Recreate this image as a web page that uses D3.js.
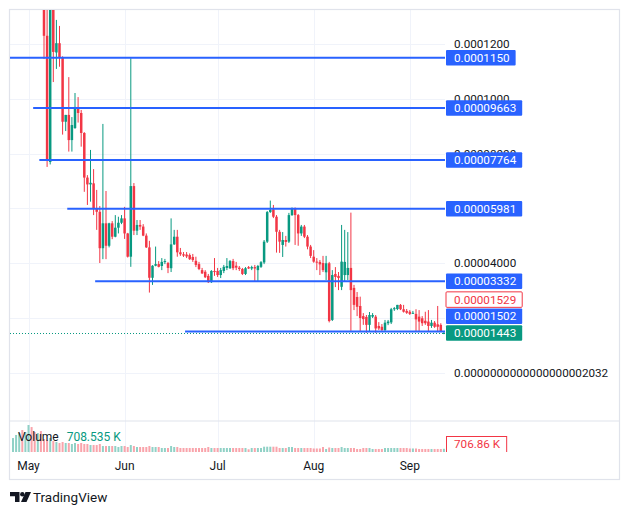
<!DOCTYPE html>
<html><head><meta charset="utf-8">
<script src="https://cdn.jsdelivr.net/npm/d3@7"></script>
<style>
body{margin:0;background:#fff;}
svg{display:block;font-family:Roboto,"Liberation Sans",Arial,sans-serif;}
</style>
</head><body>
<svg id="c" width="630" height="515"></svg>
<script>
// ---------- DATA (prices in units of 1e-5, volume in K) ----------
const firstDay = "2024-04-26";
const openP = [15.5,16.5,18,20.5,19,23,26,22,18,20,
 15,12.30,7.69,13.8,11.69,12.03,11.51,9.16,9.41,8.49,
 8.93,9.70,9.48,8.75,7.12,6.87,6.91,5.97,5.87,4.54,
 5.45,4.63,5.45,4.96,5.29,5.47,5.63,5.08,4.23,6.81,
 5.18,5.39,5.33,5.00,4.57,3.46,3.90,3.96,3.89,4.04,
 4.00,3.81,4.68,4.96,4.39,4.32,4.31,4.29,4.22,4.08,
 3.96,3.74,3.68,3.53,3.30,3.71,3.71,3.56,3.71,3.82,
 3.81,4.07,3.90,3.83,3.78,3.60,3.85,3.80,3.85,3.74,
 3.86,4.02,4.78,5.86,5.96,5.69,5.14,4.66,4.84,4.78,
 5.75,6.00,5.75,5.08,5.33,4.96,4.60,4.23,4.05,4.04,
 4.00,3.66,3.99,1.92,3.60,3.53,3.13,3.56,3.56,3.82,
 3.09,2.76,2.43,2.06,2.03,1.74,2.04,2.04,1.70,1.67,
 1.55,1.80,1.83,2.31,2.32,2.47,2.31,2.25,2.22,2.17,
 2.14,2.04,1.98,1.89,1.86,1.70,1.82,1.76,1.74,1.42];
const highP = [17,18.5,21,22,24,27,27,23,21,20.5,
 15.5,13.8,14.5,14.2,12.88,12.66,11.55,9.41,10.79,9.33,
 10.21,10.06,9.59,8.78,7.21,8.13,7.43,6.67,6.08,9.08,
 6.63,5.47,5.53,5.75,5.69,5.75,6.05,5.10,11.48,6.92,
 5.57,5.57,5.42,5.08,4.81,3.92,4.60,4.07,4.18,4.15,
 4.04,5.63,5.21,5.21,4.55,4.40,4.40,4.35,4.33,4.23,
 4.04,3.82,3.74,3.60,3.74,4.18,3.82,3.82,3.93,4.18,
 4.11,4.15,4.04,3.89,3.82,3.85,3.89,3.90,3.93,3.93,
 4.07,4.84,5.90,6.28,6.12,5.75,5.21,5.13,4.99,5.83,
 6.03,6.03,5.79,5.39,5.39,5.02,4.66,4.47,4.18,4.11,
 4.26,4.26,4.04,3.74,3.85,3.67,5.39,5.21,5.13,5.84,
 3.20,2.94,2.77,2.17,2.10,2.21,2.17,2.10,1.84,1.77,
 1.92,1.92,2.36,2.39,2.47,2.50,2.47,2.32,2.28,2.25,
 2.31,2.28,2.06,2.22,2.28,1.92,1.88,2.43,1.80,1.50];
const lowP = [14.8,16,17.5,18,18.5,22,21,17,16.5,15,
 11.45,7.51,7.60,10.61,11.09,11.17,8.69,8.82,8.07,8.07,
 8.90,9.13,8.25,6.60,6.12,6.24,5.75,5.21,4.00,4.14,
 4.14,4.57,4.87,4.94,5.08,5.42,4.88,4.20,3.86,5.02,
 5.02,5.21,4.98,4.55,2.92,3.20,3.88,3.84,3.74,3.96,
 3.63,3.67,4.66,4.23,4.26,4.22,4.18,4.11,4.04,3.85,
 3.74,3.60,3.45,3.27,3.27,3.53,3.49,3.45,3.63,3.74,
 3.78,3.74,3.74,3.71,3.56,3.56,3.78,3.74,3.34,3.34,
 3.82,3.96,4.73,5.83,5.64,4.38,4.37,4.22,4.60,4.73,
 5.72,4.66,4.63,4.99,4.91,4.50,4.18,4.01,3.74,3.56,
 3.67,3.38,1.83,1.88,3.12,3.01,3.01,3.31,3.38,1.52,
 2.28,2.06,1.49,1.74,1.45,1.49,1.99,1.45,1.55,1.48,
 1.48,1.73,1.77,2.25,2.28,2.28,2.19,2.14,2.10,2.14,
 1.49,1.49,1.70,1.74,1.49,1.63,1.63,1.49,1.48,1.40];
const closeP = [16.5,18,20.5,19,23,26,22,18,20,16,
 12.30,7.74,13.8,11.71,12.03,11.51,9.16,9.41,8.49,9.04,
 9.70,9.48,8.75,7.12,6.87,6.93,5.97,5.87,4.54,5.45,
 4.63,5.45,4.96,5.29,5.47,5.63,5.08,4.23,6.81,5.18,
 5.39,5.33,5.00,4.57,3.46,3.90,3.96,3.86,4.04,4.07,
 3.82,4.68,4.96,4.39,4.32,4.27,4.24,4.14,4.11,3.93,
 3.78,3.62,3.48,3.30,3.71,3.67,3.56,3.74,3.86,3.89,
 4.07,3.81,3.83,3.78,3.60,3.81,3.80,3.85,3.80,3.89,
 4.03,4.78,5.86,5.94,5.69,5.14,4.78,4.84,4.77,5.75,
 6.00,5.75,5.08,5.33,4.96,4.60,4.26,4.05,4.02,3.95,
 3.74,3.99,1.88,3.56,3.49,3.45,4.05,4.04,3.82,3.01,
 2.47,2.40,1.99,1.95,1.74,2.10,2.10,1.61,1.61,1.55,
 1.82,1.86,2.31,2.35,2.47,2.31,2.22,2.18,2.14,2.18,
 1.94,1.86,1.80,1.80,1.70,1.82,1.67,1.67,1.50,1.443];
const volumeK = [3100,3780,4220,4880,4440,6000,5550,4440,4220,4660,
 2890,2660,3110,2440,2220,2000,2220,2000,2000,1780,
 2000,1780,2000,1780,1780,1550,1550,1550,1780,1330,
 1330,1330,1330,1330,1110,1330,1330,1110,1550,1330,
 1110,1110,1110,1110,1330,1110,1110,1110,890,890,
 890,1330,1110,1110,890,890,890,890,890,890,
 890,890,890,1110,890,890,890,890,890,890,
 890,890,890,890,890,890,600,890,890,890,
 890,1180,1180,1180,1180,1180,890,890,890,1110,
 1110,890,890,890,890,890,890,780,780,780,
 1110,670,1000,890,890,890,1110,890,890,890,
 890,670,670,890,890,890,670,670,670,670,
 890,890,890,890,890,890,890,890,780,780,
 780,670,670,670,670,670,670,670,670,708.5];

const priceTicks = [0,2,4,6,8,10,12];
const priceTickLabels = ["0.000000000000000000"+"2032","0.00002000","0.00004000","0.00006000","0.00008000","0.0001000","0.0001200"];
const monthTicks = ["2024-05-01","2024-06-01","2024-07-01","2024-08-01","2024-09-01"];
const monthLabels = ["May","Jun","Jul","Aug","Sep"];

const levelPrices = [11.50,9.663,7.764,5.981,3.332,1.502];
const levelLabels = ["0.0001150","0.00009663","0.00007764","0.00005981","0.00003332","0.00001502"];
const levelStarts = ["2024-04-24T00:00","2024-05-02T12:00","2024-05-04T12:00","2024-05-13T12:00","2024-05-22T12:00","2024-06-20T12:00"];
const lastPrice = 1.443, lastPriceLabel = "0.00001443";
const markPrice = 1.529, markPriceLabel = "0.00001529";
const volLegendValue = "708.535 K", volAxisValue = "706.86 K";

// ---------- STYLE ----------
const UP="#089981", DOWN="#F23645", BLUE="#2962FF", TXT="#131722", GRID="#F0F3FA", BORDER="#E0E3EB";
const AXFS = 11.7;

const svg = d3.select("#c");
const P = {l:10, r:445, t:10, b:420};
const VP = {t:421, b:453};
const parse = d3.utcParse("%Y-%m-%dT%H:%M");
const pd = s => s.length>10 ? parse(s) : d3.utcParse("%Y-%m-%d")(s);

const x = d3.scaleUtc().domain([pd("2024-05-01"), pd("2024-09-01")]).range([28.5, 409.8]);
const y = d3.scaleLinear().domain([0,12]).range([372.5,44]);
const yv = d3.scaleLinear().domain([0,6000]).range([452,425]);

const start = pd(firstDay);
const candles = openP.map((o,i)=>({date:d3.utcDay.offset(start,i), o, h:highP[i], l:lowP[i], c:closeP[i], v:volumeK[i]}));

const defs = svg.append("defs");
defs.append("clipPath").attr("id","mainClip").append("rect").attr("x",P.l).attr("y",P.t).attr("width",P.r-P.l).attr("height",P.b-P.t);
defs.append("clipPath").attr("id","volClip").append("rect").attr("x",P.l).attr("y",VP.t).attr("width",P.r-P.l).attr("height",VP.b-VP.t);
defs.append("clipPath").attr("id","volAxisClip").append("rect").attr("x",P.r).attr("y",VP.t).attr("width",175).attr("height",452-VP.t);

// grid
const grid = svg.append("g");
grid.selectAll(".hg").data(priceTicks).join("line")
  .attr("x1",P.l).attr("x2",P.r).attr("y1",d=>Math.round(y(d))+0.5).attr("y2",d=>Math.round(y(d))+0.5)
  .attr("stroke",GRID).attr("stroke-width",1);
grid.selectAll(".vg").data(monthTicks).join("line")
  .attr("x1",d=>Math.round(x(pd(d)))+0.5).attr("x2",d=>Math.round(x(pd(d)))+0.5).attr("y1",P.t).attr("y2",VP.b)
  .attr("stroke",GRID).attr("stroke-width",1);

// frame
svg.append("rect").attr("x",9.5).attr("y",9.5).attr("width",610).attr("height",470)
  .attr("fill","none").attr("stroke",BORDER).attr("stroke-width",1.2);
svg.append("line").attr("x1",10).attr("x2",619).attr("y1",421).attr("y2",421).attr("stroke",BORDER).attr("stroke-width",1.2);

// volume bars
const vg = svg.append("g").attr("clip-path","url(#volClip)");
vg.selectAll("rect").data(candles).join("rect")
  .attr("x",d=>x(d.date)-1).attr("width",2)
  .attr("y",d=>yv(d.v)).attr("height",d=>yv(0)-yv(d.v))
  .attr("fill",d=>d.c>=d.o?UP:DOWN).attr("fill-opacity",0.45);

// candles
const cg = svg.append("g").attr("clip-path","url(#mainClip)");
cg.selectAll("line.w").data(candles).join("line")
  .attr("x1",d=>x(d.date)).attr("x2",d=>x(d.date)).attr("y1",d=>y(d.h)).attr("y2",d=>y(d.l))
  .attr("stroke",d=>d.c>=d.o?UP:DOWN).attr("stroke-width",1);
cg.selectAll("rect.b").data(candles).join("rect")
  .attr("x",d=>x(d.date)-1.25).attr("width",2.5)
  .attr("y",d=>y(Math.max(d.o,d.c))).attr("height",d=>Math.max(1,Math.abs(y(d.o)-y(d.c))))
  .attr("fill",d=>d.c>=d.o?UP:DOWN);

// horizontal levels
const lg = svg.append("g").attr("clip-path","url(#mainClip)");
levelPrices.forEach((p,i)=>{
  lg.append("line").attr("x1",x(pd(levelStarts[i]))).attr("x2",P.r).attr("y1",y(p)).attr("y2",y(p))
    .attr("stroke",BLUE).attr("stroke-width",2);
});
// last price dotted line
lg.append("line").attr("x1",P.l).attr("x2",P.r).attr("y1",Math.round(y(lastPrice))+0.5).attr("y2",Math.round(y(lastPrice))+0.5)
  .attr("stroke",UP).attr("stroke-width",1).attr("stroke-dasharray","1,2");

// price axis tick labels
const ax = svg.append("g");
ax.selectAll("text").data(priceTicks).join("text")
  .attr("x",454).attr("y",d=>y(d)).attr("dy","0.35em")
  .attr("font-size",AXFS).attr("fill",TXT).text((d,i)=>priceTickLabels[i]);

// price axis label boxes with collision stacking
const boxH = 15.5, step = 16.7;
const boxes = levelPrices.map((p,i)=>({p, label:levelLabels[i], fill:BLUE, stroke:null, tc:"#fff", prio:1}));
boxes.push({p:markPrice, label:markPriceLabel, fill:"#fff", stroke:DOWN, tc:DOWN, prio:1});
boxes.push({p:lastPrice, label:lastPriceLabel, fill:UP, stroke:null, tc:"#fff", prio:0});
boxes.forEach(b=>b.ny=y(b.p));
boxes.sort((a,b)=> a.prio-b.prio || b.ny-a.ny);
let prev = null;
boxes.forEach(b=>{
  b.py = prev===null ? b.ny : Math.min(b.ny, prev - step);
  prev = b.py;
});
const bg = svg.append("g");
boxes.forEach(b=>{
  const g = bg.append("g");
  const r = g.append("rect").attr("x",446).attr("y",b.py-boxH/2).attr("height",boxH)
    .attr("fill",b.fill).attr("rx",1);
  if(b.stroke) r.attr("stroke",b.stroke).attr("stroke-width",1);
  const t = g.append("text").attr("x",454).attr("y",b.py).attr("dy","0.35em")
    .attr("font-size",AXFS).attr("fill",b.tc).text(b.label);
  r.attr("width", t.node().getComputedTextLength()+14);
});

// volume legend
const leg = svg.append("text").attr("x",18).attr("y",437).attr("dy","0.35em").attr("font-size",12);
leg.append("tspan").attr("fill",TXT).text("Volume");
leg.append("tspan").attr("fill",UP).attr("dx",8).text(volLegendValue);

// volume axis label
const vax = svg.append("g").attr("clip-path","url(#volAxisClip)");
const vr = vax.append("rect").attr("x",446.5).attr("y",436.5).attr("height",20).attr("fill","#fff").attr("stroke",DOWN).attr("stroke-width",1);
const vt = vax.append("text").attr("x",454).attr("y",444).attr("dy","0.35em").attr("font-size",AXFS).attr("fill",DOWN).text(volAxisValue);
vr.attr("width",vt.node().getComputedTextLength()+14);

// time axis
svg.append("g").selectAll("text").data(monthTicks).join("text")
  .attr("x",d=>x(pd(d))).attr("y",466).attr("dy","0.35em").attr("text-anchor","middle")
  .attr("font-size",12).attr("fill",TXT).text((d,i)=>monthLabels[i]);

// TradingView logo
const logo = svg.append("g").attr("fill",TXT);
logo.append("path").attr("d","M10,492 H19.5 V502 H15 V496.2 H10 Z");
logo.append("circle").attr("cx",22.3).attr("cy",494.2).attr("r",2.2);
logo.append("path").attr("d","M25.5,492 H31 L26.5,502 H21 Z");
svg.append("text").attr("x",33).attr("y",497).attr("dy","0.35em").attr("font-size",13.5).attr("fill",TXT).text("TradingView");
</script>
</body></html>
